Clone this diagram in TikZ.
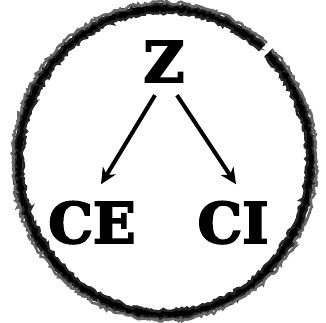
\documentclass[tikz,border=0pt]{standalone}
\usepackage{fontspec}
\newfontfamily\heavy[BoldFeatures={FakeBold=3.5}]{DejaVu Serif}
\usetikzlibrary{arrows.meta,decorations.pathmorphing}
\begin{document}
\begin{tikzpicture}[x=1pt,y=1pt,
  lab/.style={font=\heavy\bfseries\fontsize{56}{60}\selectfont, anchor=base, text=black},
  arr/.style={line width=4pt, -{Stealth[length=16pt,width=15pt,inset=5pt]}},
  ring/.style={line width=8pt, draw=black},
  rough/.style={line width=2.5pt, draw=black!85, decorate, decoration={random steps, segment length=2.5pt, amplitude=1.8pt}}]
\pgfmathsetseed{7}
\useasboundingbox (0,0) rectangle (326,323);
% rough ring
\draw[ring] (164.5,161.5) ++(48:146 and 153) arc[start angle=48, end angle=405, x radius=146, y radius=153];
\draw[rough] (164.5,161.5) ++(48:150 and 157) arc[start angle=48, end angle=405, x radius=150, y radius=157];
\draw[rough] (164.5,161.5) ++(48:142 and 149) arc[start angle=48, end angle=405, x radius=142, y radius=149];
\draw[rough, draw=black!60] (164.5,161.5) ++(48:152 and 159) arc[start angle=48, end angle=405, x radius=152, y radius=159];
% labels
\node[lab, inner sep=13pt] (Z) at (164,241) {Z};
\node[lab, inner sep=17pt] (CE) at (92,80) {CE};
\node[lab, inner sep=17pt] (CI) at (233,80) {CI};
% arrows
\draw[arr] ([xshift=-9pt]Z.south) -- ([xshift=9pt]CE.north);
\draw[arr] ([xshift=13pt]Z.south) -- ([xshift=3pt]CI.north);
\end{tikzpicture}
\end{document}
